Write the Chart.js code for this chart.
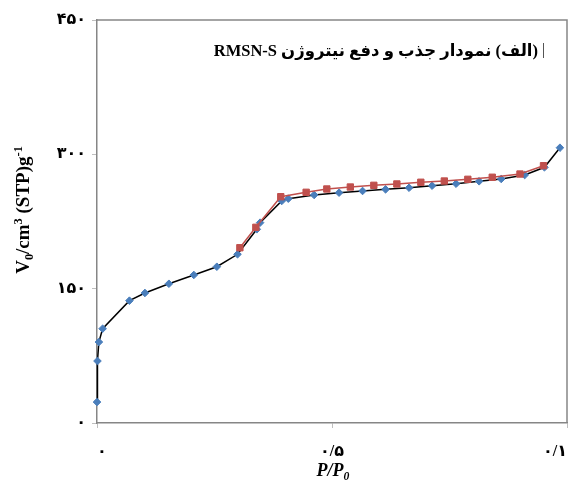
<!DOCTYPE html>
<html><head><meta charset="utf-8">
<script src="https://cdn.jsdelivr.net/npm/chart.js@4/dist/chart.umd.min.js"></script>
<style>html,body{margin:0;padding:0;background:#fff}#wrap{width:578px;height:484px;position:relative}</style>
</head><body><div id="wrap"><canvas id="c"></canvas></div>
<script>
// Adsorption (blue diamonds, black line)
const adsX = [0.000, 0.001, 0.004, 0.012, 0.069, 0.102, 0.153, 0.206, 0.255, 0.299, 0.340, 0.347, 0.393, 0.407, 0.462, 0.515, 0.565, 0.614, 0.664, 0.713, 0.764, 0.813, 0.860, 0.910, 0.952, 0.985];
const adsY = [23.4, 69.2, 90.4, 105.3, 136.6, 145.2, 155.5, 165.3, 174.5, 188.4, 216.3, 223.7, 247.9, 250.5, 254.6, 257.2, 259.1, 260.9, 262.7, 265.0, 267.2, 269.9, 272.5, 276.9, 285.5, 307.4];
// Desorption (red squares, red line)
const desX = [0.304, 0.338, 0.391, 0.445, 0.489, 0.539, 0.589, 0.638, 0.689, 0.739, 0.789, 0.841, 0.900, 0.950];
const desY = [195.7, 218.5, 252.7, 257.6, 261.3, 263.5, 265.4, 266.9, 268.8, 270.2, 272.1, 274.4, 278.0, 287.3];

const xTickValues = [0, 0.5, 1];
const xTickLabels = ["۰", "۰/۵", "۰/۱"];
const yTickValues = [0, 150, 300, 450];
const yTickLabels = ["۰", "۱۵۰", "۳۰۰", "۴۵۰"];
const chartTitle = "(الف) نمودار جذب و دفع نیتروژن RMSN-S";

const SERIF = '"Liberation Serif", "DejaVu Sans", serif';

function pts(xs, ys) { return xs.map((x, i) => ({ x: x, y: ys[i] })); }

function drawParts(ctx, parts, size, style) {
  let x = 0;
  for (const p of parts) {
    const s = p.k ? size * 0.65 : size;
    ctx.font = style + ' bold ' + s + 'px ' + SERIF;
    const dy = p.k === 'sub' ? size * 0.22 : (p.k === 'sup' ? -size * 0.38 : 0);
    ctx.fillText(p.t, x, dy);
    x += ctx.measureText(p.t).width;
  }
  return x;
}
function measureParts(ctx, parts, size, style) {
  let w = 0;
  for (const p of parts) {
    const s = p.k ? size * 0.65 : size;
    ctx.font = style + ' bold ' + s + 'px ' + SERIF;
    w += ctx.measureText(p.t).width;
  }
  return w;
}

const yTitleParts = [{t:'V'},{t:'0',k:'sub'},{t:'/cm'},{t:'3',k:'sup'},{t:' (STP)g'},{t:'-1',k:'sup'}];
const xTitleParts = [{t:'P/P'},{t:'0',k:'sub'}];

const decor = {
  id: 'decor',
  afterDraw(chart) {
    const ctx = chart.ctx, a = chart.chartArea;
    ctx.save();
    ctx.strokeStyle = '#868686'; ctx.lineWidth = 1.5;
    ctx.beginPath();
    ctx.moveTo(a.left, a.top); ctx.lineTo(a.right, a.top); ctx.lineTo(a.right, a.bottom);
    ctx.stroke();
    // inner title
    ctx.fillStyle = '#000';
    ctx.direction = 'rtl'; ctx.textAlign = 'right'; ctx.textBaseline = 'alphabetic';
    ctx.font = 'bold 16.5px ' + SERIF;
    ctx.fillText(chartTitle, 538, 56);
    ctx.strokeStyle = '#555'; ctx.lineWidth = 1;
    ctx.beginPath(); ctx.moveTo(543.5, 43); ctx.lineTo(543.5, 58); ctx.stroke();
    ctx.direction = 'ltr'; ctx.textAlign = 'left';
    // y title
    ctx.save();
    const yw = measureParts(ctx, yTitleParts, 19, 'normal');
    ctx.translate(29, 210 + yw / 2);
    ctx.rotate(-Math.PI / 2);
    drawParts(ctx, yTitleParts, 19, 'normal');
    ctx.restore();
    // x title
    ctx.save();
    const xw = measureParts(ctx, xTitleParts, 18, 'italic');
    ctx.translate(333 - xw / 2, 476);
    drawParts(ctx, xTitleParts, 18, 'italic');
    ctx.restore();
    ctx.restore();
  }
};

new Chart(document.getElementById('c'), {
  type: 'scatter',
  data: {
    datasets: [
      {
        label: 'desorption',
        data: pts(desX, desY),
        showLine: true,
        borderColor: '#C0504D', backgroundColor: '#C0504D',
        borderWidth: 1.5,
        pointStyle: 'rect', pointRadius: 4.5, pointBorderWidth: 1,
        pointBackgroundColor: '#C0504D', pointBorderColor: '#C0504D',
        order: 0
      },
      {
        label: 'adsorption',
        data: pts(adsX, adsY),
        showLine: true,
        borderColor: '#000000', backgroundColor: '#4A7EBB',
        borderWidth: 1.5,
        pointStyle: 'rectRot', pointRadius: 3.8, pointBorderWidth: 1,
        pointBackgroundColor: '#4A7EBB', pointBorderColor: '#4A7EBB',
        order: 1
      }
    ]
  },
  options: {
    responsive: true, maintainAspectRatio: false, animation: false,
    clip: false,
    layout: { padding: { left: 0, right: 11, top: 20, bottom: 0 } },
    plugins: { legend: { display: false }, tooltip: { enabled: false }, title: { display: false } },
    scales: {
      x: {
        type: 'linear', min: 0, max: 1,
        afterBuildTicks(s) { s.ticks = xTickValues.map(v => ({ value: v })); },
        afterFit(s) { s.height = 61; s.paddingRight = 0; s.paddingLeft = 0; },
        ticks: {
          callback(v) { const i = xTickValues.indexOf(v); return i >= 0 ? xTickLabels[i] : ''; },
          color: '#000', font: { family: SERIF, size: 16, weight: 'bold' }, padding: 14, maxRotation: 0, autoSkip: false,
          align: 'inner'
        },
        grid: { drawOnChartArea: false, drawTicks: true, tickLength: 5, color: '#bfbfbf' },
        border: { display: true, color: '#868686', width: 1.5 }
      },
      y: {
        type: 'linear', min: 0, max: 450,
        afterBuildTicks(s) { s.ticks = yTickValues.map(v => ({ value: v })); },
        afterFit(s) { s.width = 97; s.paddingTop = 0; s.paddingBottom = 0; },
        ticks: {
          callback(v) { const i = yTickValues.indexOf(v); return i >= 0 ? yTickLabels[i] : ''; },
          color: '#000', font: { family: SERIF, size: 16, weight: 'bold' }, padding: 6, autoSkip: false
        },
        grid: { drawOnChartArea: false, drawTicks: true, tickLength: 5, color: '#bfbfbf' },
        border: { display: true, color: '#868686', width: 1.5 }
      }
    }
  },
  plugins: [decor]
});
</script>
</body></html>
